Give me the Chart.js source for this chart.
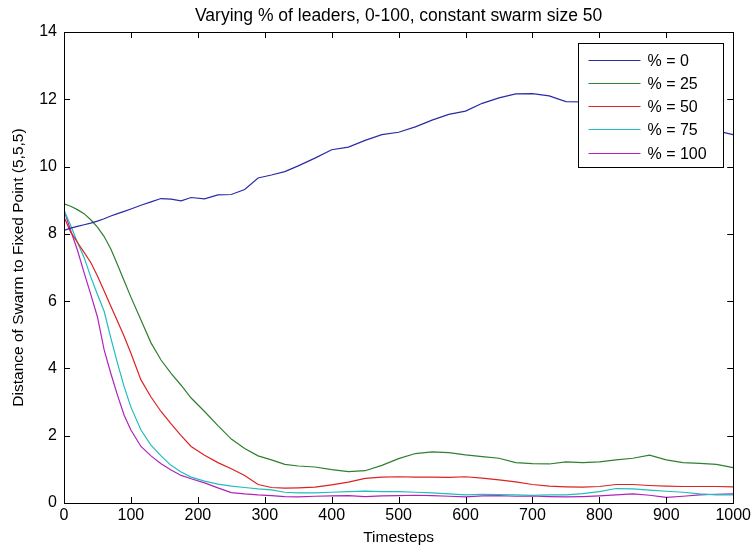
<!DOCTYPE html>
<html>
<head>
<meta charset="utf-8">
<script src="https://cdn.jsdelivr.net/npm/chart.js@4/dist/chart.umd.min.js"></script>
<style>
    html, body { margin: 0; padding: 0; background: #fff; }
    canvas { display: block; }
</style>
</head>
<body>
<canvas id="swarmChart" width="754" height="553"></canvas>
<script>
const steps = [0, 10, 20, 30, 40, 50, 60, 70, 80, 90, 100, 115, 130, 145, 160, 175, 190,
    210, 230, 250, 270, 290, 310, 330, 350, 375, 400, 425, 450, 475, 500, 525, 550, 575,
    600, 625, 650, 675, 700, 725, 750, 775, 800, 825, 850, 875, 900, 925, 950, 975, 1000];

const leaders0 = [8.1, 8.17, 8.22, 8.27, 8.32, 8.38, 8.45, 8.53, 8.6, 8.67, 8.74, 8.85, 8.95,
    9.05, 9.03, 8.98, 9.08, 9.04, 9.16, 9.17, 9.32, 9.66, 9.75, 9.85, 10.02, 10.25, 10.5, 10.58,
    10.78, 10.95, 11.02, 11.18, 11.38, 11.55, 11.65, 11.88, 12.04, 12.16, 12.17, 12.1, 11.93,
    11.92, 11.85, 11.75, 11.62, 11.5, 11.4, 11.3, 11.18, 11.06, 10.95];
const leaders25 = [8.89, 8.82, 8.72, 8.6, 8.42, 8.2, 7.92, 7.55, 7.08, 6.6, 6.12, 5.44, 4.76,
    4.25, 3.85, 3.5, 3.12, 2.72, 2.3, 1.9, 1.62, 1.4, 1.28, 1.15, 1.1, 1.07, 0.99, 0.93, 0.96,
    1.12, 1.32, 1.47, 1.52, 1.5, 1.43, 1.38, 1.33, 1.2, 1.17, 1.16, 1.22, 1.2, 1.22, 1.28, 1.33,
    1.42, 1.28, 1.2, 1.18, 1.15, 1.05];
const leaders50 = [8.5, 8.05, 7.75, 7.45, 7.15, 6.75, 6.3, 5.85, 5.4, 4.95, 4.45, 3.66, 3.15,
    2.72, 2.35, 2.0, 1.68, 1.42, 1.2, 1.02, 0.82, 0.55, 0.46, 0.44, 0.45, 0.47, 0.54, 0.62, 0.73,
    0.77, 0.78, 0.77, 0.77, 0.76, 0.78, 0.74, 0.69, 0.63, 0.55, 0.5, 0.48, 0.47, 0.49, 0.55, 0.55,
    0.52, 0.5, 0.49, 0.49, 0.49, 0.48];
const leaders75 = [8.7, 8.25, 7.75, 7.3, 6.72, 6.2, 5.7, 4.9, 4.15, 3.45, 2.85, 2.17, 1.72, 1.4,
    1.12, 0.92, 0.77, 0.65, 0.56, 0.5, 0.46, 0.42, 0.39, 0.32, 0.3, 0.3, 0.32, 0.34, 0.35, 0.34,
    0.34, 0.32, 0.3, 0.27, 0.24, 0.26, 0.25, 0.24, 0.23, 0.24, 0.24, 0.28, 0.34, 0.43, 0.42, 0.38,
    0.35, 0.32, 0.27, 0.24, 0.24];
const leaders100 = [8.7, 8.1, 7.52, 6.85, 6.2, 5.53, 4.55, 3.85, 3.2, 2.6, 2.17, 1.68, 1.4, 1.17,
    0.98, 0.82, 0.72, 0.6, 0.45, 0.31, 0.27, 0.24, 0.22, 0.19, 0.18, 0.2, 0.21, 0.22, 0.19, 0.21,
    0.22, 0.23, 0.22, 0.2, 0.18, 0.21, 0.22, 0.2, 0.21, 0.19, 0.18, 0.19, 0.21, 0.24, 0.27, 0.23,
    0.17, 0.2, 0.24, 0.26, 0.27];

const seriesLabels = ["% = 0", "% = 25", "% = 50", "% = 75", "% = 100"];
const seriesValues = [leaders0, leaders25, leaders50, leaders75, leaders100];
const seriesColors = ["#2b2ba6", "#2f7f2f", "#dd2222", "#22bdbd", "#b022bb"];

const FONT = "'Liberation Sans', Arial, Helvetica, sans-serif";

// MATLAB style box with ticks pointing inward, plus the boxed legend
const matlabFrame = {
    id: "matlabFrame",
    afterDatasetsDraw(chart) {
        const ctx = chart.ctx;
        const area = chart.chartArea;
        const xScale = chart.scales.x;
        const yScale = chart.scales.y;
        const tickLen = 6;
        ctx.save();
        ctx.strokeStyle = "#000";
        ctx.lineWidth = 1;
        ctx.beginPath();
        xScale.ticks.forEach(t => {
            const px = Math.round(xScale.getPixelForValue(t.value)) + 0.5;
            ctx.moveTo(px, area.bottom);
            ctx.lineTo(px, area.bottom - tickLen);
            ctx.moveTo(px, area.top);
            ctx.lineTo(px, area.top + tickLen);
        });
        yScale.ticks.forEach(t => {
            const py = Math.round(yScale.getPixelForValue(t.value)) + 0.5;
            ctx.moveTo(area.left, py);
            ctx.lineTo(area.left + tickLen, py);
            ctx.moveTo(area.right, py);
            ctx.lineTo(area.right - tickLen, py);
        });
        ctx.stroke();
        ctx.strokeRect(Math.round(area.left) + 0.5, Math.round(area.top) + 0.5,
            Math.round(area.right - area.left), Math.round(area.bottom - area.top));

        const boxW = 145, boxH = 124;
        const boxX = Math.round(area.right) - 10 - boxW + 0.5;
        const boxY = Math.round(area.top) + 11 + 0.5;
        ctx.fillStyle = "#fff";
        ctx.fillRect(boxX, boxY, boxW, boxH);
        ctx.strokeRect(boxX, boxY, boxW, boxH);
        ctx.font = "16px " + FONT;
        ctx.textBaseline = "middle";
        ctx.textAlign = "left";
        chart.data.datasets.forEach((ds, i) => {
            const y = Math.round(boxY + 16 + i * 23.3) + 0.5;
            ctx.strokeStyle = ds.borderColor;
            ctx.beginPath();
            ctx.moveTo(boxX + 10, y);
            ctx.lineTo(boxX + 62, y);
            ctx.stroke();
            ctx.fillStyle = "#000";
            ctx.fillText(ds.label, boxX + 69, y + 1);
        });
        ctx.restore();
    }
};

let datasets = [];
for (let i = 0; i < seriesLabels.length; i++) {
    datasets.push({
        label: seriesLabels[i],
        data: steps.map((s, j) => ({ x: s, y: seriesValues[i][j] })),
        borderColor: seriesColors[i],
        backgroundColor: seriesColors[i],
        borderWidth: 1.2,
        pointRadius: 0,
        tension: 0,
    });
}

new Chart(document.getElementById("swarmChart"), {
    type: "line",
    data: { datasets: datasets },
    plugins: [matlabFrame],
    options: {
        responsive: false,
        animation: false,
        layout: { padding: { left: 0, right: 19, top: 0, bottom: 0 } },
        plugins: {
            legend: { display: false },
            tooltip: { enabled: false },
            title: {
                display: true,
                fullSize: false,
                text: "Varying % of leaders, 0-100, constant swarm size 50",
                color: "#000",
                font: { family: FONT, size: 17.5, weight: "normal" },
                padding: { top: 6, bottom: 5 },
            },
        },
        scales: {
            x: {
                type: "linear",
                min: 0,
                max: 1000,
                afterFit: scale => { scale.height = 50; },
                grid: { display: false, drawTicks: false },
                border: { display: false },
                ticks: {
                    stepSize: 100,
                    color: "#000",
                    padding: 3,
                    maxRotation: 0,
                    font: { family: FONT, size: 16 },
                    callback: value => String(value),
                },
                title: {
                    display: true,
                    text: "Timesteps",
                    color: "#000",
                    font: { family: FONT, size: 15.5 },
                    padding: { top: 0, bottom: 6 },
                },
            },
            y: {
                min: 0,
                max: 14,
                afterFit: scale => { scale.width = 64; },
                grid: { display: false, drawTicks: false },
                border: { display: false },
                ticks: {
                    stepSize: 2,
                    color: "#000",
                    padding: 7,
                    font: { family: FONT, size: 16 },
                },
                title: {
                    display: true,
                    text: "Distance of Swarm to Fixed Point (5,5,5)",
                    color: "#000",
                    font: { family: FONT, size: 15.5 },
                    padding: { top: 9, bottom: 0 },
                },
            },
        },
    },
});
</script>
</body>
</html>
